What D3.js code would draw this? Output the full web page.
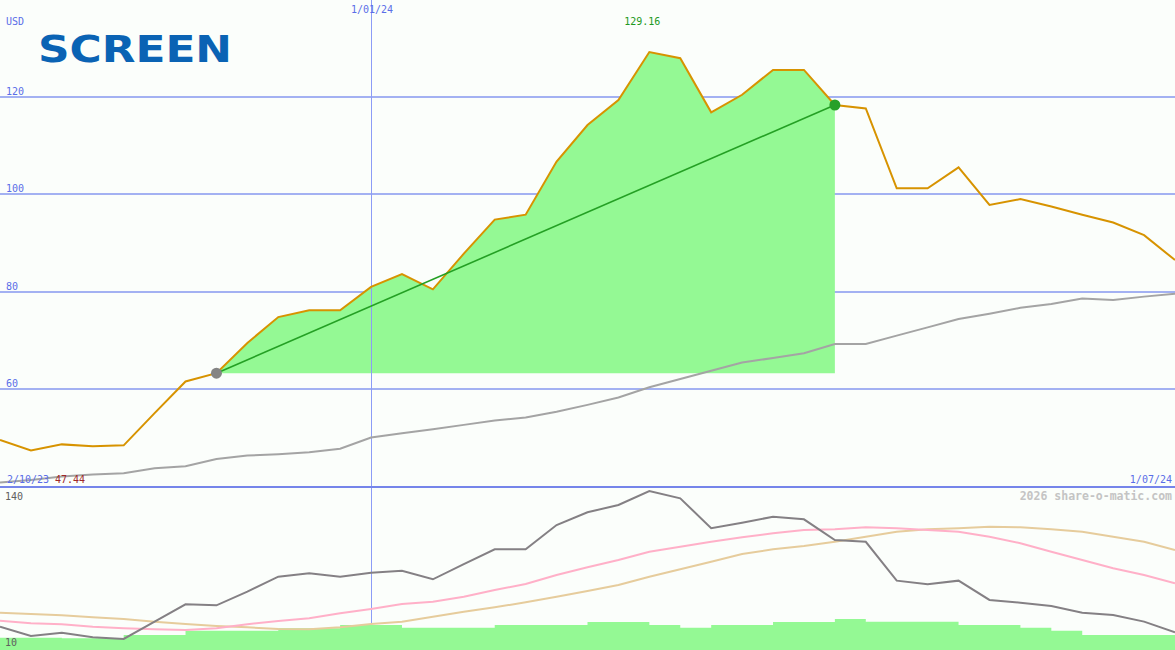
<!DOCTYPE html>
<html><head><meta charset="utf-8">
<script src="https://cdn.jsdelivr.net/npm/d3@7"></script>
<style>
html,body{margin:0;padding:0;background:#fbfefb;}
svg{display:block;}
text{font-family:"DejaVu Sans Mono",monospace;font-size:10px;}
</style></head><body>
<svg id="c" width="1175" height="650"></svg>
<script>
const startLabel = "2/10/23";
const midLabel = "1/01/24";
const endLabel = "1/07/24";
const midIndex = 12;
const price = [49.6, 47.44, 48.7, 48.3, 48.5, 55.1, 61.6, 63.3, 69.5, 74.8, 76.2, 76.2, 81.0, 83.6, 80.5, 87.8, 94.8, 95.8, 106.7, 114.2, 119.3, 129.16, 127.9, 116.8, 120.4, 125.5, 125.5, 118.3, 117.6, 101.2, 101.2, 105.5, 97.8, 99.0, 97.5, 95.8, 94.2, 91.6, 86.5];
const movingAvg = [40.9, 41.4, 42.1, 42.5, 42.8, 43.8, 44.2, 45.7, 46.4, 46.7, 47.1, 47.8, 50.1, 51.0, 51.8, 52.7, 53.6, 54.2, 55.4, 56.8, 58.3, 60.4, 62.1, 63.8, 65.5, 66.4, 67.4, 69.3, 69.3, 71.0, 72.7, 74.4, 75.5, 76.7, 77.5, 78.6, 78.3, 79.0, 79.6];
const oscillator = [28.8, 21.3, 24.0, 20.3, 18.9, 32.9, 46.9, 46.1, 57.1, 69.2, 71.9, 69.2, 72.4, 74.0, 67.1, 79.4, 91.3, 91.3, 110.9, 121.2, 127.1, 138.4, 132.5, 108.3, 112.8, 117.6, 115.5, 98.8, 97.4, 66.0, 63.0, 66.0, 50.4, 48.2, 45.5, 40.1, 38.3, 32.9, 24.3];
const pinkAvg = [33.7, 31.6, 30.8, 28.8, 27.5, 26.7, 26.1, 27.5, 30.8, 33.4, 35.6, 39.6, 43.1, 47.1, 49.0, 53.0, 58.4, 63.3, 70.6, 76.8, 82.7, 89.4, 93.4, 97.4, 101.0, 104.2, 106.9, 107.5, 109.1, 108.3, 106.9, 105.5, 101.5, 96.2, 89.4, 82.7, 76.0, 70.6, 63.9];
const tanAvg = [40.1, 39.1, 38.0, 36.4, 35.0, 32.9, 31.0, 29.4, 28.3, 27.0, 26.7, 28.3, 31.0, 32.9, 36.9, 40.9, 44.5, 48.5, 53.0, 57.6, 62.5, 69.2, 75.2, 81.3, 87.5, 91.3, 94.0, 97.4, 101.5, 105.5, 107.5, 108.3, 109.6, 109.1, 107.5, 105.5, 101.5, 97.4, 90.7];
const volume = [19.9, 19.9, 19.4, 19.4, 22.1, 22.1, 25.6, 25.6, 25.6, 27.5, 27.5, 30.2, 30.2, 28.0, 28.0, 28.0, 30.2, 30.2, 30.2, 32.6, 32.6, 30.2, 28.0, 30.2, 30.2, 32.6, 32.6, 35.0, 32.9, 32.9, 32.9, 30.2, 30.2, 28.0, 25.6, 22.1, 22.1, 22.1, 22.1];
const priceTicks = [60, 80, 100, 120];
const lowerTicks = [10, 140];
const trendStart = 7, trendEnd = 27;
const currency = "USD";
const logoText = "SCREEN";
const credit = "2026 share-o-matic.com";

const svg = d3.select("#c");
const W = 1175;
const n = price.length;
const x = d3.scaleLinear().domain([0, n - 1]).range([0, W]);
const y = d3.scaleLinear().domain([40, 120]).range([486.8, 96.7]);
const yl = d3.scaleLinear().domain([10, 140]).range([650, 489]);

svg.append("rect").attr("width", W).attr("height", 650).attr("fill", "#fbfefb");

const grid = svg.append("g");
grid.selectAll("line").data(priceTicks).join("line")
  .attr("x1", 0).attr("x2", W)
  .attr("y1", d => Math.round(y(d))).attr("y2", d => Math.round(y(d)))
  .attr("stroke", "#a3b1f2").attr("stroke-width", 2).attr("shape-rendering", "crispEdges");

const base = price[trendStart];
const fillIdx = d3.range(trendStart, trendEnd + 1);
svg.append("path")
  .attr("d", d3.area().x(i => x(i)).y0(y(base)).y1(i => y(price[i]))(fillIdx))
  .attr("fill", "#94f994");

const vx = Math.round(x(midIndex)) + 0.5;
svg.append("line").attr("x1", vx).attr("x2", vx)
  .attr("y1", 0).attr("y2", 650).attr("stroke", "#8c9cf6").attr("stroke-width", 1)
  .attr("shape-rendering", "crispEdges");

svg.append("path")
  .attr("d", d3.line().x((d, i) => x(i)).y(d => y(d))(movingAvg))
  .attr("fill", "none").attr("stroke", "#a4a4a4").attr("stroke-width", 2);

svg.append("path")
  .attr("d", d3.line().x((d, i) => x(i)).y(d => y(d))(price))
  .attr("fill", "none").attr("stroke", "#d79300").attr("stroke-width", 2);

svg.append("line")
  .attr("x1", x(trendStart)).attr("y1", y(price[trendStart]))
  .attr("x2", x(trendEnd)).attr("y2", y(price[trendEnd]))
  .attr("stroke", "#24a024").attr("stroke-width", 1.6);
svg.append("circle").attr("cx", x(trendStart)).attr("cy", y(price[trendStart])).attr("r", 5.5).attr("fill", "#848484");
svg.append("circle").attr("cx", x(trendEnd)).attr("cy", y(price[trendEnd])).attr("r", 5.5).attr("fill", "#28a028");

svg.append("line").attr("x1", 0).attr("x2", W).attr("y1", 487).attr("y2", 487)
  .attr("stroke", "#7585ea").attr("stroke-width", 2).attr("shape-rendering", "crispEdges");

svg.append("path")
  .attr("d", d3.area().curve(d3.curveStepAfter).x((d, i) => x(i)).y0(650).y1(d => yl(d))(volume))
  .attr("fill", "#94f994");

const lowerLine = d3.line().x((d, i) => x(i)).y(d => yl(d));
svg.append("path").attr("d", lowerLine(tanAvg)).attr("fill", "none").attr("stroke", "#e6cc9c").attr("stroke-width", 2);
svg.append("path").attr("d", lowerLine(pinkAvg)).attr("fill", "none").attr("stroke", "#ffb0c8").attr("stroke-width", 2);
svg.append("path").attr("d", lowerLine(oscillator)).attr("fill", "none").attr("stroke", "#848084").attr("stroke-width", 2);

const txt = (t, px, py, col, anchor) => svg.append("text").attr("x", px).attr("y", py)
  .attr("fill", col).attr("text-anchor", anchor || "start").text(t);

txt(currency, 6, 25, "#5a6ee8");
priceTicks.forEach(v => txt(String(v), 6, Math.round(y(v)) - 2, "#5a6ee8"));
txt(midLabel, x(midIndex) + 1, 13, "#5a6ee8", "middle");
const maxI = d3.maxIndex(price);
txt(price[maxI].toFixed(2), x(maxI) - 7, 25, "#229922", "middle");
txt(startLabel, 7, 483, "#5a6ee8");
const minI = d3.minIndex(price);
txt(price[minI].toFixed(2), 55, 483, "#a02828");
txt(endLabel, 1172, 483, "#5a6ee8", "end");
txt(String(lowerTicks[1]), 5, 500, "#606060");
txt(String(lowerTicks[0]), 5, 646, "#606060");
txt(credit, 1172, 500, "#c4c4c4", "end").style("font-size", "11.5px").attr("font-weight", "bold");

svg.append("text").attr("x", 38).attr("y", 62)
  .attr("fill", "#0a63b4")
  .style("font-family", "'DejaVu Sans', sans-serif").style("font-size", "37px").style("font-weight", "bold")
  .attr("textLength", 194).attr("lengthAdjust", "spacingAndGlyphs")
  .text(logoText);
</script>
</body></html>
